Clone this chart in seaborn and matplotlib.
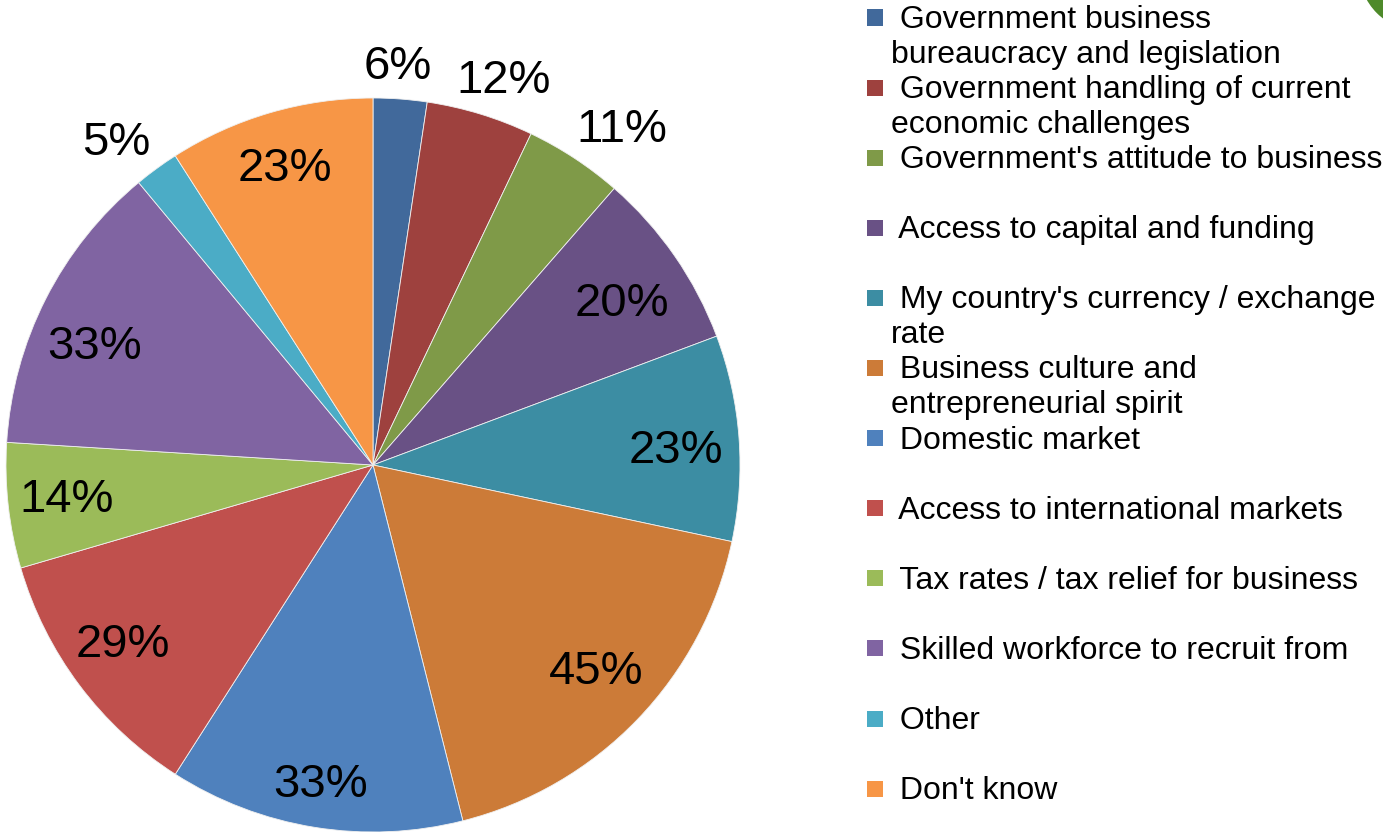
import numpy as np
import matplotlib
matplotlib.use("Agg")
import matplotlib.pyplot as plt
import seaborn as sns
from matplotlib.patches import Rectangle, Circle

categories = [
    " Government business\nbureaucracy and legislation",
    " Government handling of current\neconomic challenges",
    " Government's attitude to business",
    " Access to capital and funding",
    " My country's currency / exchange\nrate",
    " Business culture and\nentrepreneurial spirit",
    " Domestic market",
    " Access to international markets",
    " Tax rates / tax relief for business",
    " Skilled workforce to recruit from",
    " Other",
    " Don't know",
]
values = [6, 12, 11, 20, 23, 45, 33, 29, 14, 33, 5, 23]
value_labels = ["6%", "12%", "11%", "20%", "23%", "45%", "33%", "29%", "14%", "33%", "5%", "23%"]
colors = ["#41699B", "#9E413E", "#7F9A48", "#695185", "#3C8DA3", "#CC7B38",
          "#4F81BD", "#C0504D", "#9BBB59", "#8064A2", "#4BACC6", "#F79646"]
# label placement (radius fraction, clockwise angle shift in degrees from wedge middle)
label_r = [1.10, 1.117, 1.147, 0.813, 0.826, 0.821, 0.871, 0.832, 0.838, 0.828, 1.132, 0.852]
label_dang = [-0.8, 1.6, 3.0, 1.1, 0.8, -1.7, 0.2, 1.8, 0.7, -3.1, -2.1, 0.0]

sns.set_theme(style="white")
plt.rcParams['font.family'] = ['Liberation Sans', 'DejaVu Sans']

W, H = 1383, 832
fig = plt.figure(figsize=(W / 100, H / 100), dpi=100)
cx, cy, R = 373, H - 465, 367
ax = fig.add_axes([(cx - R) / W, (cy - R) / H, 2 * R / W, 2 * R / H])
wedges, _ = ax.pie(values, colors=colors, startangle=90, counterclock=False,
                   radius=1, wedgeprops=dict(edgecolor="#f0f0f0", linewidth=0.6))
ax.set_xlim(-1, 1)
ax.set_ylim(-1, 1)
ax.set_aspect("equal")
ax.axis("off")
for w in wedges:
    w.set_clip_on(False)

for w, lab, r, da in zip(wedges, value_labels, label_r, label_dang):
    mid = np.deg2rad((w.theta1 + w.theta2) / 2 - da)
    ax.annotate(lab, xy=(r * np.cos(mid), r * np.sin(mid)), xytext=(0, -11.9),
                textcoords="offset points", ha="center", va="baseline",
                fontsize=34, color="black", annotation_clip=False)

# legend
row0, step = 17.5, 70.1
sq = 16
fs = 23
for i, (lab, c) in enumerate(zip(categories, colors)):
    yc = row0 + i * step
    fig.add_artist(Rectangle((867 / W, (H - yc - sq / 2) / H), sq / W, sq / H,
                             transform=fig.transFigure, facecolor=c, edgecolor="none"))
    for j, line in enumerate(lab.split("\n")):
        fig.text(891 / W, (H - yc - 10.5 - 35 * j) / H, line, ha="left", va="baseline",
                 fontsize=fs, color="black")

# corner decoration
fig.add_artist(Circle((1420 / 100, (H + 30) / 100), 0.61, transform=fig.dpi_scale_trans,
                      facecolor="#4E8A2A", edgecolor="none"))

fig.savefig("out.png", dpi=100)
